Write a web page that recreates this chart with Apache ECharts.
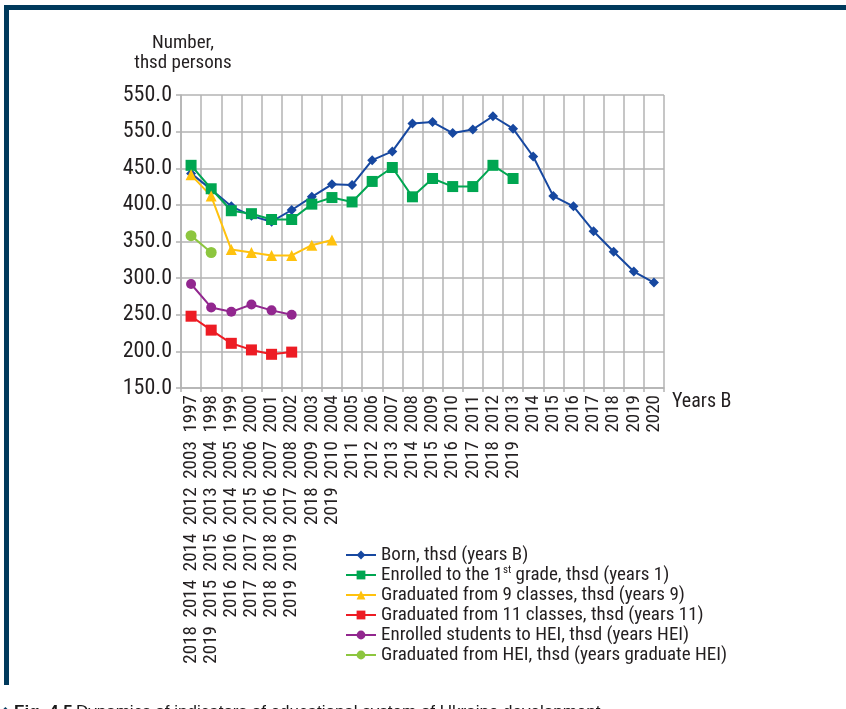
<!DOCTYPE html>
<html>
<head>
<meta charset="utf-8">
<script src="https://cdn.jsdelivr.net/npm/echarts@6/dist/echarts.min.js"></script>
<style>
html,body{margin:0;padding:0;background:#fff;}
#chart{width:846px;height:709px;}
</style>
</head>
<body>
<div id="chart"></div>
<script>
// ---- data ----
var yearsB = ['1997','1998','1999','2000','2001','2002','2003','2004','2005','2006','2007','2008','2009','2010','2011','2012','2013','2014','2015','2016','2017','2018','2019','2020'];
var years1 = ['2003','2004','2005','2006','2007','2008','2009','2010','2011','2012','2013','2014','2015','2016','2017','2018','2019'];
var years9 = ['2012','2013','2014','2015','2016','2017','2018','2019'];
var years11 = ['2014','2015','2016','2017','2018','2019'];
var yearsHEI = ['2014','2015','2016','2017','2018','2019'];
var yearsGradHEI = ['2018','2019'];

var born = [443, 421, 398, 385, 377, 393, 411, 428, 427, 461, 473, 511, 513, 498, 503, 521, 504, 466, 412, 398, 364, 336, 309, 294];
var grade1 = [454, 422, 392, 388, 380, 380, 401, 410, 404, 432, 451, 411, 436, 425, 425, 454, 436];
var grad9 = [441, 412, 339, 335, 331, 331, 345, 352];
var grad11 = [248, 229, 211, 202, 196, 199];
var hei = [292, 260, 254, 264, 256, 250];
var gradHei = [358, 335];

var yTickLabels = ['150.0','200.0','250.0','300.0','350.0','400.0','450.0','550.0','550.0'];

var seriesNames = [
  'Born, thsd (years B)',
  'Enrolled to the 1st grade, thsd (years 1)',
  'Graduated from 9 classes, thsd (years 9)',
  'Graduated from 11 classes, thsd (years 11)',
  'Enrolled students to HEI, thsd (years HEI)',
  'Graduated from HEI, thsd (years graduate HEI)'
];

var FONT = "'Roboto Condensed', 'DejaVu Sans Condensed', sans-serif";
var TXT = '#231f20';

var chart = echarts.init(document.getElementById('chart'));

function xLabel(v, i) {
  var parts = [yearsGradHEI[i], yearsHEI[i], years11[i], years9[i], years1[i], yearsB[i]].filter(function (s) { return !!s; });
  return parts.join('  ');
}

function mk(name, data, color, symbol, size) {
  return {
    name: name, type: 'line', data: data,
    symbol: symbol, symbolSize: size,
    lineStyle: { color: color, width: 2 },
    itemStyle: { color: color },
    emphasis: { disabled: true },
    animation: false
  };
}

var option = {
  animation: false,
  textStyle: { fontFamily: FONT },
  grid: { left: 181, right: 182, top: 95, bottom: 321, containLabel: false },
  xAxis: {
    type: 'category',
    data: yearsB,
    boundaryGap: true,
    axisLine: { show: true, lineStyle: { color: '#b3b3b3', width: 1.5 } },
    axisTick: { show: true, length: 4, lineStyle: { color: '#b3b3b3', width: 1.5 } },
    splitLine: { show: true, lineStyle: { color: '#b3b3b3', width: 1.5 } },
    axisLabel: {
      rotate: 90, margin: 7, interval: 0,
      fontFamily: FONT,
      fontSize: 19, color: TXT,
      formatter: xLabel
    }
  },
  yAxis: {
    type: 'value', min: 150, max: 550, interval: 50,
    axisLine: { show: true, lineStyle: { color: '#b3b3b3', width: 1.5 } },
    axisTick: { show: true, length: 5, lineStyle: { color: '#b3b3b3', width: 1.5 } },
    splitLine: { show: true, lineStyle: { color: '#b3b3b3', width: 1.5 } },
    axisLabel: {
      margin: 9, fontSize: 22, color: TXT, fontFamily: FONT,
      formatter: function (v) { return yTickLabels[Math.round((v - 150) / 50)]; }
    }
  },
  legend: {
    orient: 'vertical', left: 345, top: 545, padding: 0,
    itemWidth: 30, itemHeight: 11, itemGap: 0,
    selectedMode: false,
    textStyle: {
      fontFamily: FONT, fontSize: 19, color: TXT, lineHeight: 20,
      rich: {
        n: { fontFamily: FONT, fontSize: 19, color: TXT, lineHeight: 20 },
        sup: { fontFamily: FONT, fontSize: 11, color: TXT, verticalAlign: 'top', lineHeight: 20, padding: [0, 0, 8, 0] }
      }
    },
    formatter: function (name) {
      if (name === seriesNames[1]) {
        return '{n|Enrolled to the 1}{sup|st}{n| grade, thsd (years 1)}';
      }
      return '{n|' + name + '}';
    },
    data: seriesNames
  },
  graphic: [
    { type: 'rect', shape: { x: 4, y: 5, width: 842, height: 5 }, style: { fill: '#003a5c' } },
    { type: 'rect', shape: { x: 4, y: 5, width: 5, height: 680 }, style: { fill: '#003a5c' } },
    { type: 'text', x: 183, y: 33, style: { text: 'Number,\nthsd persons', align: 'center', verticalAlign: 'top', font: "19px " + FONT, fill: TXT, lineHeight: 20 } },
    { type: 'text', left: 672, top: 392, style: { text: 'Years B', font: "20px " + FONT, fill: TXT } },
    { type: 'text', x: 0, y: 704, style: {
        text: '{i|\u25C6} {b|Fig. 4.5} {r|Dynamics of indicators of educational system of Ukraine development}',
        verticalAlign: 'top',
        rich: {
          i: { font: "14px 'DejaVu Sans'", fill: '#003a5c' },
          b: { font: "bold 17px 'Liberation Sans'", fill: '#1a1a1a' },
          r: { font: "17px 'Liberation Sans'", fill: '#1a1a1a' }
        } } }
  ],
  series: [
    mk(seriesNames[0], born, '#1748a0', 'diamond', 10),
    mk(seriesNames[1], grade1, '#00a651', 'rect', 11),
    mk(seriesNames[2], grad9, '#ffc20e', 'triangle', 11),
    mk(seriesNames[3], grad11, '#ed1c24', 'rect', 11),
    mk(seriesNames[4], hei, '#92278f', 'circle', 10),
    mk(seriesNames[5], gradHei, '#8dc63f', 'circle', 11)
  ]
};
chart.setOption(option);
</script>
</body>
</html>
